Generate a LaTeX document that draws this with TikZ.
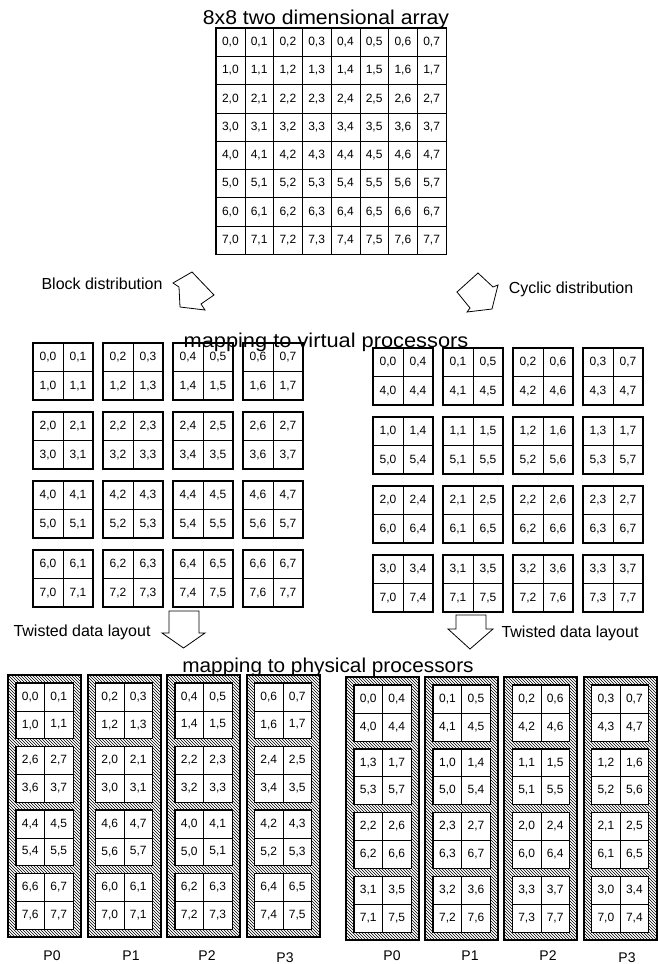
\documentclass[tikz,border=0pt]{standalone}
\usepackage{fontspec}
\usepackage{graphicx}
\setmainfont{Liberation Sans}
\usetikzlibrary{patterns}
\newcommand\mycellfont{\fontsize{12}{13}\selectfont}
\begin{document}
\begin{tikzpicture}[x=1pt,y=-1pt,
  cellA/.style={draw,line width=0.5pt,inner sep=0pt,minimum width=28.75pt,minimum height=28.25pt,font=\mycellfont},
  cellV/.style={draw,line width=0.5pt,inner sep=0pt,minimum width=30pt,minimum height=28.5pt,font=\mycellfont},
  cellP/.style={draw,line width=0.5pt,inner sep=0pt,minimum width=28.5pt,minimum height=27.75pt,font=\mycellfont},
  blockframe/.style={draw,line width=1.6pt},
  colframe/.style={draw,line width=2pt,pattern=north west lines},
  innerframe/.style={draw,line width=1pt},
  arrowshape/.style={draw,line width=0.8pt,fill=white,line join=miter},
  lbltext/.style={anchor=base,inner sep=0pt,font=\fontsize{16}{18}\selectfont},
  plabel/.style={anchor=base,inner sep=0pt,font=\fontsize{14}{16}\selectfont}]
\useasboundingbox[fill=white] (0,0) rectangle (657,964);

% title
\node[anchor=base,inner sep=0pt] (title) at (326,24) {\scalebox{1.06}[1]{\fontsize{20}{22}\selectfont 8x8 two dimensional array}};

% top array
\foreach \i in {0,...,7}{\foreach \j in {0,...,7}{
  \node[cellA] (a-\i-\j) at ({216+28.75*(\j+0.5)},{28+28.25*(\i+0.5)}) {\i,\j};
}}
\draw[line width=1.2pt] (a-0-0.north west) rectangle (a-7-7.south east);

% distribution labels and arrows
\node[lbltext] (blk) at (102,289) {Block distribution};
\node[lbltext] (cyc) at (571,293) {Cyclic distribution};
\draw[arrowshape] (192,272) -- (214,295) -- (201,304) -- (205,310) -- (180,307) -- (179,287) -- (173,283) -- cycle;
\draw[arrowshape] (478,273) -- (493,287) -- (498,285) -- (492,309) -- (467,312) -- (470,308) -- (457,292) -- cycle;

% virtual processors: block distribution
\foreach \bi in {0,...,3}{\foreach \bj in {0,...,3}{
  \foreach \r in {0,1}{\foreach \c in {0,1}{
    \pgfmathtruncatemacro\rr{2*\bi+\r}
    \pgfmathtruncatemacro\cc{2*\bj+\c}
    \node[cellV] (vb-\bi-\bj-\r-\c) at ({33+70*\bj+30*(\c+0.5)},{343+69*\bi+28.5*(\r+0.5)}) {\rr,\cc};
  }}
  \draw[blockframe] (vb-\bi-\bj-0-0.north west) rectangle (vb-\bi-\bj-1-1.south east);
}}

% virtual processors: cyclic distribution
\foreach \bi in {0,...,3}{\foreach \bj in {0,...,3}{
  \foreach \r in {0,1}{\foreach \c in {0,1}{
    \pgfmathtruncatemacro\rr{\bi+4*\r}
    \pgfmathtruncatemacro\cc{\bj+4*\c}
    \node[cellV] (vc-\bi-\bj-\r-\c) at ({373+70*\bj+30*(\c+0.5)},{348+69*\bi+28.5*(\r+0.5)}) {\rr,\cc};
  }}
  \draw[blockframe] (vc-\bi-\bj-0-0.north west) rectangle (vc-\bi-\bj-1-1.south east);
}}

% mapping to virtual processors (drawn over the block tops)
\node[anchor=base,inner sep=0pt] (mapv) at (326,347) {\scalebox{1.09}[1]{\fontsize{20}{22}\selectfont mapping to virtual processors}};

% twisted layout labels and arrows
\node[lbltext] (twl) at (82,636) {Twisted data layout};
\node[lbltext] (twr) at (570,637) {Twisted data layout};
\draw[arrowshape] (169,611) -- (199,611) -- (199,633) -- (205,633) -- (183.5,648) -- (162,633) -- (169,633) -- cycle;
\draw[arrowshape] (456,615) -- (486,615) -- (486,629) -- (493,629) -- (470,649) -- (448,629) -- (456,629) -- cycle;

% physical processors: block (twisted)
\foreach \p in {0,...,3}{
  \pgfmathsetmacro\xo{8+79.5*\p}
  \draw[colframe] (\xo,675) rectangle ++(73,262);
  \foreach \bi in {0,...,3}{
    \pgfmathtruncatemacro\bj{{0,3,2,3,1,0,3,0,2,1,0,1,3,2,1,2}[4*\p+\bi]}
    \pgfmathsetmacro\yo{683+\bi*(2*27.75+8)}
    \fill[white] (\xo+8,\yo) rectangle ++(57,55.5);
    \foreach \r in {0,1}{\foreach \c in {0,1}{
      \pgfmathtruncatemacro\rr{2*\bi+\r}
      \pgfmathtruncatemacro\cc{2*\bj+\c}
      \node[cellP] (pb-\p-\bi-\r-\c) at ({\xo+8+28.5*(\c+0.5)},{\yo+27.75*(\r+0.5)}) {\rr,\cc};
    }}
    \draw[innerframe] (pb-\p-\bi-0-0.north west) rectangle (pb-\p-\bi-1-1.south east);
  }
}

% physical processors: cyclic (twisted)
\foreach \p in {0,...,3}{
  \pgfmathsetmacro\xo{346+79.2*\p}
  \draw[colframe] (\xo,677) rectangle ++(73,263);
  \foreach \bi in {0,...,3}{
    \pgfmathtruncatemacro\bj{mod(\p-\bi+4,4)}
    \pgfmathsetmacro\yo{685+\bi*(2*27.875+8)}
    \fill[white] (\xo+8,\yo) rectangle ++(57,55.75);
    \foreach \r in {0,1}{\foreach \c in {0,1}{
      \pgfmathtruncatemacro\rr{\bi+4*\r}
      \pgfmathtruncatemacro\cc{\bj+4*\c}
      \node[cellP,minimum height=27.875pt] (pc-\p-\bi-\r-\c) at ({\xo+8+28.5*(\c+0.5)},{\yo+27.875*(\r+0.5)}) {\rr,\cc};
    }}
    \draw[innerframe] (pc-\p-\bi-0-0.north west) rectangle (pc-\p-\bi-1-1.south east);
  }
}

% mapping to physical processors
\node[anchor=base,inner sep=0pt] (mapp) at (328,672) {\scalebox{1.04}[1]{\fontsize{20}{22}\selectfont mapping to physical processors}};

% processor labels
\node[plabel] (lp0) at (52,960) {P0};
\node[plabel] (lp1) at (131,960) {P1};
\node[plabel] (lp2) at (207,960) {P2};
\node[plabel] (lp3) at (285,962) {P3};
\node[plabel] (rp0) at (392,960) {P0};
\node[plabel] (rp1) at (470,960) {P1};
\node[plabel] (rp2) at (548,960) {P2};
\node[plabel] (rp3) at (627,962) {P3};
\end{tikzpicture}
\end{document}
